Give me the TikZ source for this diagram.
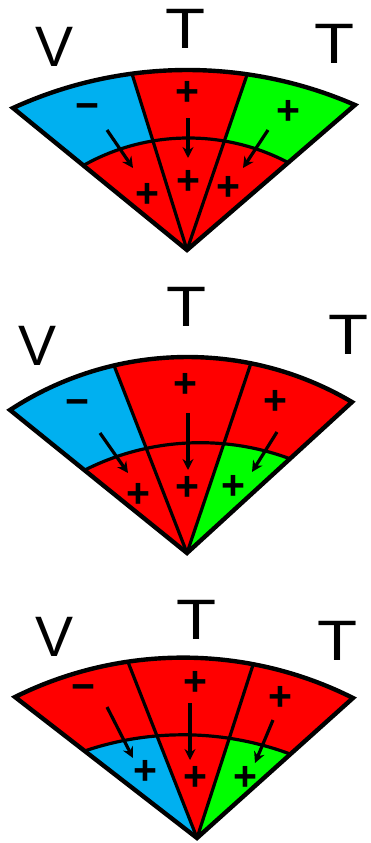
\documentclass[tikz,border=0pt]{standalone}
\usepackage{fontspec}
\setmainfont{Liberation Sans}
\usetikzlibrary{calc,arrows.meta}
\definecolor{skyb}{RGB}{0,176,240}
\definecolor{rd}{RGB}{255,0,0}
\definecolor{gr}{RGB}{0,255,0}
\tikzset{
 edge/.style={line width=4.4pt, line join=miter, miter limit=10},
 div/.style={line width=3.2pt},
 letter/.style={inner sep=0pt, font=\fontsize{57}{57}\selectfont},
 sign/.style={inner sep=0pt, font=\bfseries\fontsize{41}{41}\selectfont},
 flow/.style={line width=3.2pt, -{Stealth[length=11pt,width=11pt]}},
}
% #1 apex #2 #3 sector edges #4 outer centre #5 outer radius #6 inner centre #7 inner radius #8 top colour #9 bottom colour
\newcommand\fansector[9]{%
 \begin{scope}
  \clip (#1) -- ($(#1)!3!(#2)$) -- ($(#1)!3!(#3)$) -- cycle;
  \fill[#8] (#4) circle[radius=#5];
  \fill[#9] (#6) circle[radius=#7];
 \end{scope}}
% #1 apex #2 left end #3 right end #4 outer centre #5 inner centre #6 inner radius #7 #8 dividers
\newcommand\fanoutline[8]{%
 \begin{scope}
  \clip let \p1=($(#2)-(#4)$), \p2=($(#3)-(#4)$), \n1={atan2(\y1,\x1)}, \n2={atan2(\y2,\x2)}, \n3={veclen(\x1,\y1)} in
   (#1) -- (#2) arc[start angle=\n1, end angle=\n2, radius=\n3] -- cycle;
  \draw[div] (#5) circle[radius=#6];
  \draw[div] (#1) -- ($(#1)!2!(#7)$);
  \draw[div] (#1) -- ($(#1)!2!(#8)$);
 \end{scope}
 \draw[edge] let \p1=($(#2)-(#4)$), \p2=($(#3)-(#4)$), \n1={atan2(\y1,\x1)}, \n2={atan2(\y2,\x2)}, \n3={veclen(\x1,\y1)} in
   (#1) -- (#2) arc[start angle=\n1, end angle=\n2, radius=\n3] -- cycle;}
\begin{document}
\begin{tikzpicture}[x=1pt,y=-1pt]
\useasboundingbox (0,0) rectangle (371,843);
% ---------- fan 1 ----------
\coordinate (A1) at (187,250);
\coordinate (OL1) at (13,108);
\coordinate (OR1) at (355,105);
\coordinate (DL1) at (133,77);
\coordinate (DR1) at (248,72);
\coordinate (OC1) at (187.4,489.2);
\coordinate (IC1) at (188.4,352.2);
\fansector{A1}{OL1}{DL1}{OC1}{419.2pt}{IC1}{214.2pt}{skyb}{rd}
\fansector{A1}{DL1}{DR1}{OC1}{419.2pt}{IC1}{214.2pt}{rd}{rd}
\fansector{A1}{DR1}{OR1}{OC1}{419.2pt}{IC1}{214.2pt}{gr}{rd}
\fanoutline{A1}{OL1}{OR1}{OC1}{IC1}{214.2pt}{DL1}{DR1}
\node[letter] (f1v) at (55,47) {V};
\node[letter] (f1t1) at (186,29) {\scalebox{1.15}[1]{T}};
\node[letter] (f1t2) at (335,44) {\scalebox{1.15}[1]{T}};
\node[sign] (f1u1) at (87,112) {−};
\node[sign] (f1u2) at (187,93) {+};
\node[sign] (f1u3) at (288,112) {+};
\node[sign] (f1l1) at (147,195) {+};
\node[sign] (f1l2) at (188,182) {+};
\node[sign] (f1l3) at (228,188) {+};
\coordinate (f1a1s) at (107,130); \coordinate (f1a1e) at (133,168);
\coordinate (f1a2s) at (188,118); \coordinate (f1a2e) at (188,158);
\coordinate (f1a3s) at (268,130); \coordinate (f1a3e) at (243,168);
\draw[flow] (f1a1s) -- (f1a1e);
\draw[flow] (f1a2s) -- (f1a2e);
\draw[flow] (f1a3s) -- (f1a3e);
% ---------- fan 2 ----------
\coordinate (A2) at (187,553);
\coordinate (OL2) at (10,410);
\coordinate (OR2) at (352,402);
\coordinate (DL2) at (115,368);
\coordinate (DR2) at (250,366);
\coordinate (OC2) at (187.4,680.4);
\coordinate (IC2) at (200.3,699.7);
\fansector{A2}{OL2}{DL2}{OC2}{323.4pt}{IC2}{257pt}{skyb}{rd}
\fansector{A2}{DL2}{DR2}{OC2}{323.4pt}{IC2}{257pt}{rd}{rd}
\fansector{A2}{DR2}{OR2}{OC2}{323.4pt}{IC2}{257pt}{rd}{gr}
\fanoutline{A2}{OL2}{OR2}{OC2}{IC2}{257pt}{DL2}{DR2}
\node[letter] (f2v) at (38,346) {V};
\node[letter] (f2t1) at (187,307) {\scalebox{1.15}[1]{T}};
\node[letter] (f2t2) at (349,335) {\scalebox{1.15}[1]{T}};
\node[sign] (f2u1) at (77,408) {−};
\node[sign] (f2u2) at (185,385) {+};
\node[sign] (f2u3) at (275,402) {+};
\node[sign] (f2l1) at (138,495) {+};
\node[sign] (f2l2) at (187,488) {+};
\node[sign] (f2l3) at (233,487) {+};
\coordinate (f2a1s) at (100,433); \coordinate (f2a1e) at (128,473);
\coordinate (f2a2s) at (188,413); \coordinate (f2a2e) at (188,470);
\coordinate (f2a3s) at (277,432); \coordinate (f2a3e) at (252,472);
\draw[flow] (f2a1s) -- (f2a1e);
\draw[flow] (f2a2s) -- (f2a2e);
\draw[flow] (f2a3s) -- (f2a3e);
% ---------- fan 3 ----------
\coordinate (A3) at (197,838);
\coordinate (OL3) at (15,697);
\coordinate (OR3) at (353,698);
\coordinate (DL3) at (128,662);
\coordinate (DR3) at (252,668);
\coordinate (OC3) at (183,1035.7);
\coordinate (IC3) at (183.1,1040.9);
\fansector{A3}{OL3}{DL3}{OC3}{377.7pt}{IC3}{306.1pt}{rd}{skyb}
\fansector{A3}{DL3}{DR3}{OC3}{377.7pt}{IC3}{306.1pt}{rd}{rd}
\fansector{A3}{DR3}{OR3}{OC3}{377.7pt}{IC3}{306.1pt}{rd}{gr}
\fanoutline{A3}{OL3}{OR3}{OC3}{IC3}{306.1pt}{DL3}{DR3}
\node[letter] (f3v) at (55,637) {V};
\node[letter] (f3t1) at (197,620) {\scalebox{1.15}[1]{T}};
\node[letter] (f3t2) at (338,641) {\scalebox{1.15}[1]{T}};
\node[sign] (f3u1) at (83,693) {−};
\node[sign] (f3u2) at (195,683) {+};
\node[sign] (f3u3) at (280,698) {+};
\node[sign] (f3l1) at (145,772) {+};
\node[sign] (f3l2) at (195,778) {+};
\node[sign] (f3l3) at (245,778) {+};
\coordinate (f3a1s) at (107,707); \coordinate (f3a1e) at (133,758);
\coordinate (f3a2s) at (190,703); \coordinate (f3a2e) at (190,760);
\coordinate (f3a3s) at (273,720); \coordinate (f3a3e) at (255,763);
\draw[flow] (f3a1s) -- (f3a1e);
\draw[flow] (f3a2s) -- (f3a2e);
\draw[flow] (f3a3s) -- (f3a3e);
\end{tikzpicture}
\end{document}
